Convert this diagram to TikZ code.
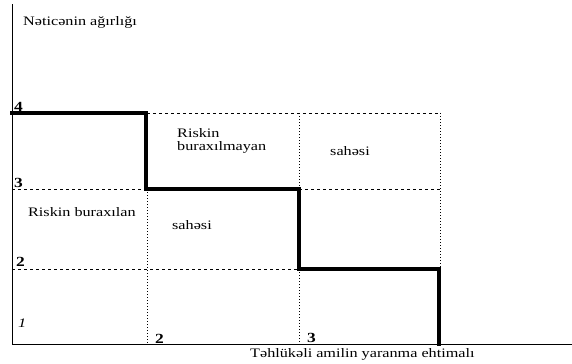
\documentclass[tikz,border=0pt]{standalone}
\usepackage{fontspec}
\setmainfont{Liberation Serif}[FakeStretch=1.25]
\tikzset{
  lbl/.style={inner sep=0pt,anchor=base west,font=\fontsize{13}{13}\selectfont},
  tick/.style={lbl,font=\fontsize{14}{14}\selectfont\bfseries},
  hgrid/.style={thin,dash pattern=on 3bp off 3bp},
  vgrid/.style={thin,dash pattern=on 1.2bp off 1.8bp},
  riskline/.style={line width=4.8bp,line cap=rect,line join=miter}
}
\begin{document}
\begin{tikzpicture}[x=1bp,y=-1bp]
\useasboundingbox (0,0) rectangle (572,363);
%\draw[step=10,gray,very thin] (0,0) grid (572,363);
\draw[line width=1bp](12,4)--(12,344)--(572,344);
\node[lbl] (ytitle) at (23,25) {Nəticənin ağırlığı};
\node[lbl] (xtitle) at (250,357) {Təhlükəli amilin yaranma ehtimalı};
%.............................
\node[tick] (y4) at (14,111) {4};
\node[tick] (y3) at (14,187) {3};
\node[tick] (y2) at (16,266) {2};
\node[lbl] (y1) at (18,327) {\itshape 1};
\node[tick] (x2) at (155,343) {2};
\node[tick] (x3) at (307,342) {3};
%.............................
\draw[hgrid](147,113)--(440,113);
\draw[hgrid](12,189)--(147,189);
\draw[hgrid](299,189)--(440,189);
\draw[hgrid](12,269)--(299,269);
\draw[vgrid](147,189)--(147,344);
\draw[vgrid](299,113)--(299,189);
\draw[vgrid](299,269)--(299,344);
\draw[vgrid](440,113)--(440,269);
%.............................
\draw[riskline](12,113)--(146,113)--(146,189)--(299,189)--(299,269)--(439,269)--(439,344);
%.............................
\node[lbl,align=left,anchor=north west] (bad) at (177,128) {Riskin\\buraxılmayan};
\node[lbl] (badarea) at (330,155) {sahəsi};
\node[lbl] (good) at (28,216) {Riskin buraxılan};
\node[lbl] (goodarea) at (172,229) {sahəsi};
\end{tikzpicture}
\end{document}
